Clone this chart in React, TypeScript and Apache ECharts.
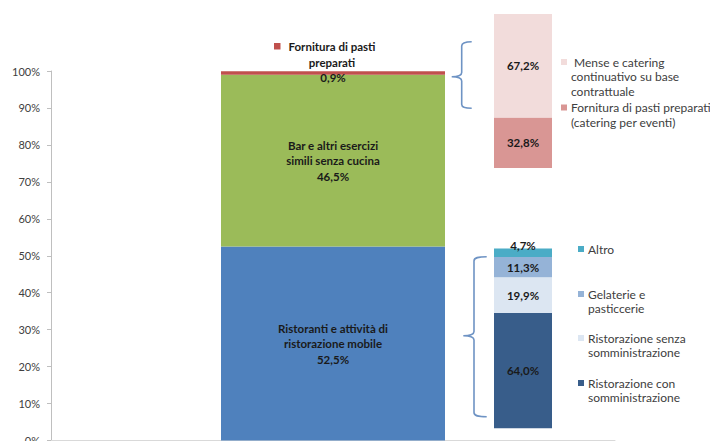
import React, { useEffect, useRef } from "react";
import * as echarts from "echarts";

const categories = ["Totale"];
const mainNames = [
  "Ristoranti e attività di ristorazione mobile",
  "Bar e altri esercizi simili senza cucina",
  "Fornitura di pasti preparati",
];
const mainLabels = [
  "Ristoranti e attività di\nristorazione mobile",
  "Bar e altri esercizi\nsimili senza cucina",
  "",
];
const mainValues = [52.5, 46.5, 0.9];
const mainColors = ["#4F81BD", "#9BBB59", "#C0504D"];

const cateringNames = [
  "Fornitura di pasti preparati (catering per eventi)",
  "Mense e catering continuativo su base contrattuale",
];
const cateringLegend = [
  "Fornitura di pasti preparati\n(catering per eventi)",
  " Mense e catering\ncontinuativo su base\ncontrattuale",
];
const cateringValues = [32.8, 67.2];
const cateringColors = ["#D99694", "#F2DCDB"];

const ristoNames = [
  "Ristorazione con somministrazione",
  "Ristorazione senza somministrazione",
  "Gelaterie e pasticcerie",
  "Altro",
];
const ristoLegend = [
  "Ristorazione con\nsomministrazione",
  "Ristorazione senza\nsomministrazione",
  "Gelaterie e\npasticcerie",
  "Altro",
];
const ristoValues = [64.0, 19.9, 11.3, 4.7];
const ristoColors = ["#385D8A", "#DCE6F2", "#95B3D7", "#4BACC6"];

const FONT = "Lato, 'Noto Sans', sans-serif";
const fmt = (v: number) => v.toFixed(1).replace(".", ",") + "%";

echarts.graphic.registerShape(
  "braceTop",
  echarts.graphic.extendPath(
    "M471.7 41.7 C465 41.7 461.7 42.5 461.7 46 L461.7 72.5 C461.7 75.5 458 76.7 451.7 76.7 C458 76.7 461.7 78 461.7 81 L461.7 104.5 C461.7 107.5 465 108.3 471.7 108.3",
    {}
  )
);
echarts.graphic.registerShape(
  "braceBottom",
  echarts.graphic.extendPath(
    "M486.7 256.7 C478 256.7 474 257.5 474 261 L474 331.5 C474 334.5 470 335.7 463.3 335.7 C470 335.7 474 337 474 340 L474 412.5 C474 416 478 416.7 486.7 416.7",
    {}
  )
);

export default function App() {
  const ref = useRef<HTMLDivElement>(null);
  useEffect(() => {
    if (!ref.current) return;
    const chart = echarts.init(ref.current, undefined, { renderer: "svg" });
    const labelStyle = {
      fontFamily: FONT,
      fontWeight: "bold" as const,
      fontSize: 11.5,
      color: "#1a1a1a",
      lineHeight: 15.5,
    };
    const series: any[] = [];
    mainValues.forEach((v, i) => {
      series.push({
        type: "bar",
        name: mainNames[i],
        stack: "main",
        xAxisIndex: 0,
        yAxisIndex: 0,
        barWidth: 224,
        data: [v],
        itemStyle: { color: mainColors[i] },
        label: {
          show: true,
          position: "inside",
          offset: i === 2 ? [0, 4.5] : [0, 0],
          ...labelStyle,
          formatter: (p: any) =>
            (mainLabels[i] ? mainLabels[i] + "\n" : "") + fmt(p.value),
        },
      });
    });
    cateringValues.forEach((v, i) => {
      series.push({
        type: "bar",
        name: cateringNames[i],
        stack: "cat",
        xAxisIndex: 1,
        yAxisIndex: 1,
        barWidth: "100%",
        data: [v],
        itemStyle: { color: cateringColors[i] },
        label: {
          show: true,
          position: "inside",
          ...labelStyle,
          formatter: (p: any) => fmt(p.value),
        },
      });
    });
    ristoValues.forEach((v, i) => {
      series.push({
        type: "bar",
        name: ristoNames[i],
        stack: "risto",
        xAxisIndex: 2,
        yAxisIndex: 2,
        barWidth: "100%",
        data: [v],
        itemStyle: { color: ristoColors[i] },
        label: {
          show: true,
          position: "inside",
          offset: i === 3 ? [0, -7.5] : [0, 0],
          ...labelStyle,
          formatter: (p: any) => fmt(p.value),
        },
      });
    });

    const graphic: any[] = [];
    const braceStyle = { stroke: "#6E93C4", fill: "none", lineWidth: 1.6 };
    graphic.push({ type: "braceTop", style: braceStyle, silent: true });
    graphic.push({ type: "braceBottom", style: braceStyle, silent: true });
    graphic.push({
      type: "rect",
      shape: { x: 274, y: 43, width: 6.5, height: 6.5 },
      style: { fill: mainColors[2] },
    });
    graphic.push({
      type: "text",
      x: 332,
      y: 38,
      style: {
        text: "Fornitura di pasti\npreparati",
        fontFamily: FONT,
        fontWeight: "bold",
        fontSize: 11.5,
        lineHeight: 16,
        fill: "#1a1a1a",
        align: "center",
        verticalAlign: "top",
      },
    });
    const catPos = [
      { y: 107.5, idx: 0 },
      { y: 62, idx: 1 },
    ];
    catPos.forEach(({ y, idx }) => {
      graphic.push({
        type: "rect",
        shape: { x: 561, y: y - 3, width: 6, height: 6 },
        style: { fill: cateringColors[idx] },
      });
      graphic.push({
        type: "text",
        x: 571,
        y: y - 7.25,
        style: {
          text: cateringLegend[idx],
          fontFamily: FONT,
          fontSize: 12,
          lineHeight: 14.5,
          fill: "#404040",
          align: "left",
          verticalAlign: "top",
        },
      });
    });
    const ristoPos = [383, 338, 294, 249];
    ristoPos.forEach((y, idx) => {
      graphic.push({
        type: "rect",
        shape: { x: 578, y: y - 3, width: 6, height: 6 },
        style: { fill: ristoColors[idx] },
      });
      graphic.push({
        type: "text",
        x: 588,
        y: y - 7.25,
        style: {
          text: ristoLegend[idx],
          fontFamily: FONT,
          fontSize: 12,
          lineHeight: 14.5,
          fill: "#404040",
          align: "left",
          verticalAlign: "top",
        },
      });
    });

    const hiddenX = (gi: number) => ({
      type: "category",
      gridIndex: gi,
      data: categories,
      show: false,
    });
    const hiddenY = (gi: number) => ({
      type: "value",
      gridIndex: gi,
      min: 0,
      max: 100,
      show: false,
    });

    chart.setOption({
      animation: false,
      grid: [
        { left: 51, right: 95, top: 71, bottom: 0.5, outerBoundsMode: "none", containLabel: false },
        { left: 494, width: 58, top: 14, height: 154, outerBoundsMode: "none" },
        { left: 494, width: 58, top: 248.3, height: 180, outerBoundsMode: "none" },
      ],
      xAxis: [
        {
          type: "category",
          gridIndex: 0,
          data: categories,
          axisLine: { show: true, lineStyle: { color: "#D9D9D9" } },
          axisTick: { show: false },
          axisLabel: { show: false },
        },
        hiddenX(1),
        hiddenX(2),
      ],
      yAxis: [
        {
          type: "value",
          gridIndex: 0,
          min: 0,
          max: 100,
          interval: 10,
          axisLine: { show: true, lineStyle: { color: "#BFBFBF" } },
          axisTick: { show: true, length: 4, lineStyle: { color: "#BFBFBF" } },
          splitLine: { show: false },
          axisLabel: {
            formatter: "{value}%",
            margin: 11,
            fontFamily: FONT,
            fontSize: 11,
            color: "#404040",
          },
        },
        hiddenY(1),
        hiddenY(2),
      ],
      series,
      graphic,
    });
    return () => chart.dispose();
  }, []);
  return (
    <div
      ref={ref}
      style={{ position: "fixed", left: 0, top: 0, width: 710, height: 441, background: "#fff" }}
    />
  );
}
